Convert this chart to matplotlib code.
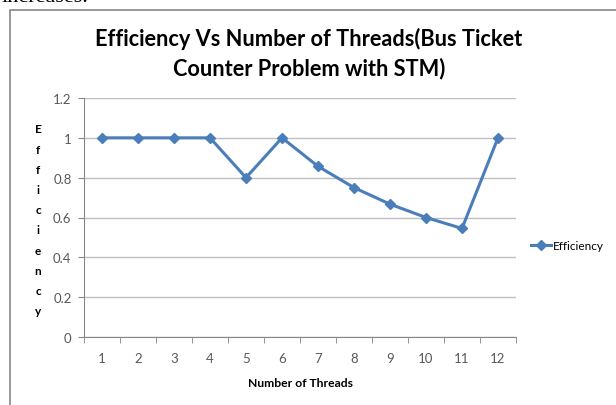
import numpy as np
import matplotlib.pyplot as plt
from matplotlib.patches import Rectangle

# data
threads = [1, 2, 3, 4, 5, 6, 7, 8, 9, 10, 11, 12]
efficiency = [1.0, 1.0, 1.0, 1.0, 0.8, 1.0, 0.857, 0.75, 0.667, 0.6, 0.545, 1.0]
y_ticks = [0, 0.2, 0.4, 0.6, 0.8, 1, 1.2]
y_tick_labels = ['0', '0.2', '0.4', '0.6', '0.8', '1', '1.2']

W, H = 616, 406
fig = plt.figure(figsize=(W / 100, H / 100), dpi=100)
plt.rcParams['font.family'] = ['Lato', 'DejaVu Sans']

# chart frame (cut off at right and bottom like a cropped screenshot)
fig.patches.append(Rectangle((10 / W, -0.1), 1.2, 1.1 - 10.5 / H, transform=fig.transFigure,
                             fill=False, edgecolor='#878787', lw=1.2))
# bit of body text from the page above the chart
fig.text(2 / W, 1 + 2 / H, 'increases.', family='Liberation Serif', fontsize=16,
         va='center', ha='left', color='black')

ax = fig.add_axes([84 / W, 1 - 338 / H, 432 / W, 239 / H])
blue = '#4A7EBB'
ax.plot(threads, efficiency, color=blue, lw=2.2, marker='D', markersize=5.5,
        markerfacecolor=blue, markeredgecolor=blue, label='Efficiency')

ax.set_xlim(0.5, 12.5)
ax.set_ylim(0, 1.2)
ax.set_yticks(y_ticks)
ax.set_yticklabels(y_tick_labels)
ax.set_xticks(threads)
ax.set_xticks(np.arange(0.5, 13, 1), minor=True)
ax.tick_params(axis='x', which='major', length=0, pad=11, labelsize=9.5, labelcolor='#595959')
ax.tick_params(axis='x', which='minor', length=4, color='#878787', direction='out')
ax.tick_params(axis='y', length=4, color='#878787', labelsize=9.5, labelcolor='#595959', pad=5)
ax.grid(axis='y', color='#BFBFBF', lw=1)
ax.set_axisbelow(True)
for s in ['top', 'right']:
    ax.spines[s].set_visible(False)
for s in ['left', 'bottom']:
    ax.spines[s].set_color('#878787')

ax.set_xlabel('Number of Threads', fontsize=8.75, fontweight='bold', labelpad=9)

# stacked vertical y label
for i, ch in enumerate('Efficiency'):
    fig.text(38 / W, 1 - (130 + i * 20.2) / H, ch, fontsize=8.5, fontweight='bold',
             ha='center', va='center')

fig.text(309 / W, 1 - 39 / H, 'Efficiency Vs Number of Threads(Bus Ticket',
         fontsize=15.7, fontweight='bold', ha='center', va='center')
fig.text(309 / W, 1 - 69 / H, 'Counter Problem with STM)',
         fontsize=15.7, fontweight='bold', ha='center', va='center')

ax.legend(loc='center left', bbox_to_anchor=(531 / W, 1 - 247 / H), bbox_transform=fig.transFigure,
          frameon=False, handlelength=1.7, handletextpad=0.15, fontsize=8.5, borderpad=0,
          borderaxespad=0)

fig.savefig('out.png', dpi=100)
